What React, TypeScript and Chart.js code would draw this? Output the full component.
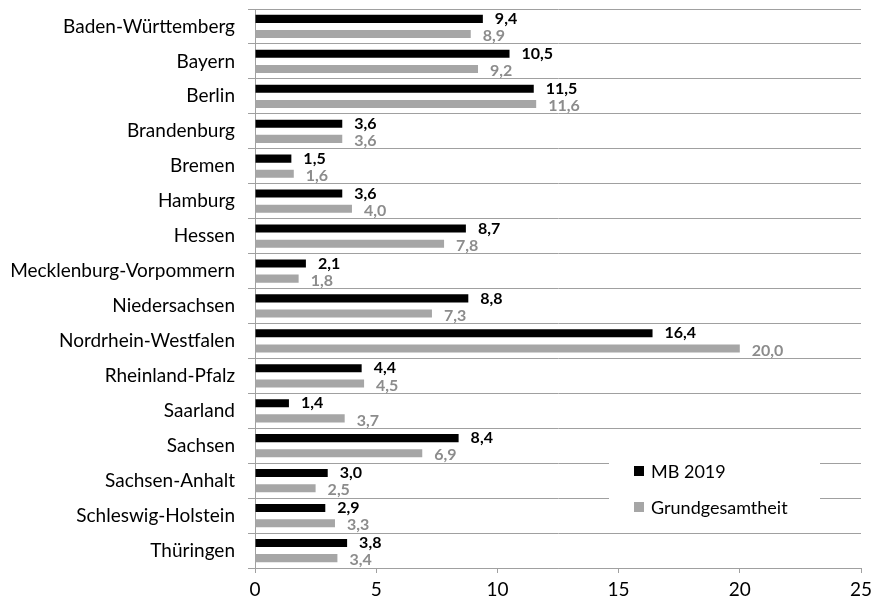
import React, { useEffect, useRef } from "react";
import { Chart, registerables } from "chart.js";

Chart.register(...registerables);

const categories = [
  "Baden-Württemberg",
  "Bayern",
  "Berlin",
  "Brandenburg",
  "Bremen",
  "Hamburg",
  "Hessen",
  "Mecklenburg-Vorpommern",
  "Niedersachsen",
  "Nordrhein-Westfalen",
  "Rheinland-Pfalz",
  "Saarland",
  "Sachsen",
  "Sachsen-Anhalt",
  "Schleswig-Holstein",
  "Thüringen",
];
const mb2019 = [9.4, 10.5, 11.5, 3.6, 1.5, 3.6, 8.7, 2.1, 8.8, 16.4, 4.4, 1.4, 8.4, 3.0, 2.9, 3.8];
const grundgesamtheit = [8.9, 9.2, 11.6, 3.6, 1.6, 4.0, 7.8, 1.8, 7.3, 20.0, 4.5, 3.7, 6.9, 2.5, 3.3, 3.4];
const seriesNames = ["MB 2019", "Grundgesamtheit"];
const xTicks = [0, 5, 10, 15, 20, 25];

const FONT = "Lato, 'Open Sans', sans-serif";
const BLACK = "#000000";
const GRAY = "#a6a6a6";
const LABEL_GRAY = "#8c8c8c";
const GRID = "#a0a0a0";

const fmt = (v: number) => v.toFixed(1).replace(".", ",");

const labelPlugin = {
  id: "valueLabels",
  afterDatasetsDraw(chart: any) {
    const ctx = chart.ctx;
    ctx.save();
    chart.data.datasets.forEach((ds: any, di: number) => {
      const meta = chart.getDatasetMeta(di);
      ctx.font = "bold 16px " + FONT;
      ctx.fillStyle = di === 0 ? BLACK : LABEL_GRAY;
      ctx.textBaseline = "middle";
      ctx.textAlign = "left";
      meta.data.forEach((el: any, i: number) => {
        ctx.fillText(fmt(ds.data[i]), el.x + 12, el.y + (di === 0 ? 0 : 2));
      });
    });
    ctx.restore();
  },
};

const legendPlugin = {
  id: "innerLegend",
  afterDraw(chart: any) {
    const ctx = chart.ctx;
    ctx.save();
    ctx.fillStyle = "#ffffff";
    ctx.fillRect(609, 452, 211, 76);
    const items = [
      { name: seriesNames[0], color: BLACK, y: 471 },
      { name: seriesNames[1], color: GRAY, y: 507 },
    ];
    ctx.font = "18px " + FONT;
    ctx.textBaseline = "middle";
    ctx.textAlign = "left";
    items.forEach((it) => {
      ctx.fillStyle = it.color;
      ctx.fillRect(634, it.y - 5, 10, 10);
      ctx.fillStyle = "#000000";
      ctx.fillText(it.name, 651, it.y + 1);
    });
    ctx.restore();
  },
};

export default function App() {
  const ref = useRef<HTMLCanvasElement | null>(null);
  useEffect(() => {
    if (!ref.current) return;
    const chart = new Chart(ref.current, {
      type: "bar",
      data: {
        labels: categories,
        datasets: [
          {
            label: seriesNames[0],
            data: mb2019,
            backgroundColor: BLACK,
            barPercentage: 0.53,
            categoryPercentage: 0.87,
          },
          {
            label: seriesNames[1],
            data: grundgesamtheit,
            backgroundColor: GRAY,
            barPercentage: 0.53,
            categoryPercentage: 0.87,
          },
        ],
      },
      options: {
        indexAxis: "y",
        animation: false,
        responsive: false,
        maintainAspectRatio: false,
        layout: { padding: { top: 9, right: 21, bottom: 0, left: 0 } },
        plugins: {
          legend: { display: false },
          tooltip: { enabled: false },
        },
        scales: {
          x: {
            min: 0,
            max: 25,
            afterBuildTicks: (s: any) => {
              s.ticks = xTicks.map((v) => ({ value: v }));
            },
            grid: {
              drawOnChartArea: false,
              drawTicks: true,
              tickLength: 5,
              color: GRID,
            },
            border: { color: GRID, width: 1 },
            ticks: {
              color: "#000000",
              font: { family: FONT, size: 19 },
              padding: 5,
              maxRotation: 0,
            },
            afterFit: (s: any) => {
              s.height = 35;
              s.paddingLeft = 0;
              s.paddingRight = 0;
            },
          },
          y: {
            grid: {
              offset: true,
              color: GRID,
              drawTicks: true,
              tickLength: 7,
            },
            border: { color: GRID, width: 1 },
            ticks: {
              color: "#000000",
              font: { family: FONT, size: 19 },
              padding: 13,
            },
            afterFit: (s: any) => {
              s.width = 255;
              s.paddingTop = 0;
              s.paddingBottom = 0;
            },
          },
        },
      },
      plugins: [labelPlugin, legendPlugin],
    } as any);
    return () => chart.destroy();
  }, []);
  return (
    <div style={{ position: "fixed", left: 0, top: 0, width: 882, height: 603, background: "#fff" }}>
      <canvas ref={ref} width={882} height={603} style={{ width: 882, height: 603 }} />
    </div>
  );
}
